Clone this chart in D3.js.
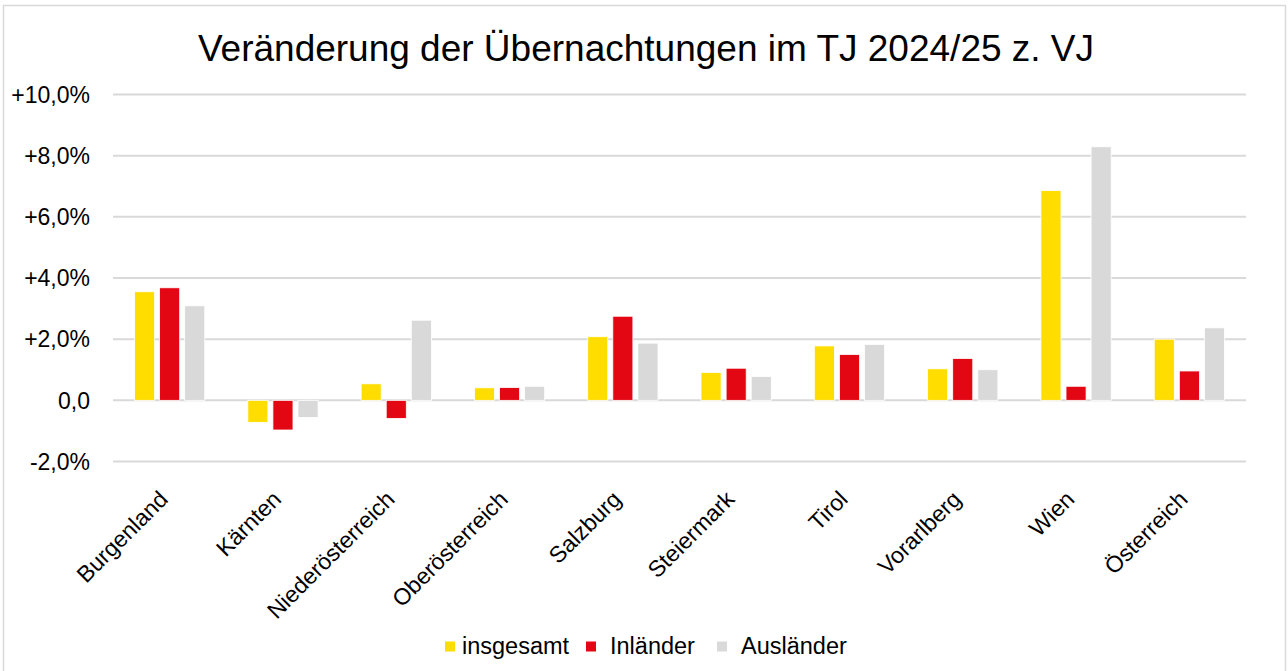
<!DOCTYPE html>
<html>
  <head>
    <meta charset="utf-8">
    <title>Übernachtungen TJ 2024/25</title>
    <script src="https://d3js.org/d3.v7.min.js"></script>
    <style>
        body { margin: 0; background: #fff; }
        svg text { font-family: "Liberation Sans", Arial, sans-serif; fill: #000; }
        .tick-label { font-size: 23px; }
        .cat-label { font-size: 23px; }
        .legend text { font-size: 23.5px; }
        .title { font-size: 37px; }
    </style>
  </head>
  <body>
    <svg width="1288" height="671"></svg>
    <script>
        // Bundesländer
        const regions = ["Burgenland", "Kärnten", "Niederösterreich", "Oberösterreich", "Salzburg",
                         "Steiermark", "Tirol", "Vorarlberg", "Wien", "Österreich"];
        const seriesNames = ["insgesamt", "Inländer", "Ausländer"];
        const seriesColors = ["#FFDD00", "#E30613", "#D9D9D9"];

        // Veränderung in %
        const insgesamt = [3.55, -0.72, 0.54, 0.41, 2.08, 0.91, 1.78, 1.03, 6.86, 2.00];
        const inlaender = [3.68, -0.97, -0.59, 0.42, 2.75, 1.05, 1.50, 1.37, 0.46, 0.96];
        const auslaender = [3.09, -0.56, 2.62, 0.46, 1.87, 0.78, 1.83, 1.00, 8.29, 2.37];

        const yTicks = [-2, 0, 2, 4, 6, 8, 10];

        const values = [insgesamt, inlaender, auslaender];

        const svg = d3.select("svg");

        // outer frame
        svg.append("rect")
            .attr("x", 3.5).attr("y", 5.5)
            .attr("width", 1282).attr("height", 700)
            .attr("fill", "#fff")
            .attr("stroke", "#d9d9d9")
            .attr("stroke-width", 1.5);

        const plot = {left: 113, right: 1246, top: 94.5, bottom: 461.5};

        const x0 = d3.scaleBand()
            .domain(regions)
            .range([plot.left, plot.right])
            .paddingInner(0.38)
            .paddingOuter(0.19);

        const x1 = d3.scaleBand()
            .domain(seriesNames)
            .range([0, x0.bandwidth()])
            .paddingInner(0.2);

        const y = d3.scaleLinear()
            .domain([-2, 10])
            .range([plot.bottom, plot.top]);

        // gridlines
        svg.append("g")
            .selectAll("line")
            .data(yTicks)
            .enter().append("line")
            .attr("x1", plot.left)
            .attr("x2", plot.right)
            .attr("y1", d => y(d))
            .attr("y2", d => y(d))
            .attr("stroke", "#d9d9d9")
            .attr("stroke-width", 2);

        // y tick labels
        const fmt = d => d === 0 ? "0,0" : (d > 0 ? "+" : "-") + Math.abs(d).toFixed(1).replace(".", ",") + "%";
        svg.append("g")
            .selectAll("text")
            .data(yTicks)
            .enter().append("text")
            .attr("class", "tick-label")
            .attr("x", 90)
            .attr("y", d => y(d))
            .attr("dy", "0.36em")
            .attr("text-anchor", "end")
            .text(fmt);

        // bars
        seriesNames.forEach((s, si) => {
            svg.append("g")
                .selectAll("rect")
                .data(regions)
                .enter().append("rect")
                .attr("x", d => x0(d) + x1(s))
                .attr("width", x1.bandwidth())
                .attr("y", (d, i) => y(Math.max(0, values[si][i])))
                .attr("height", (d, i) => Math.abs(y(values[si][i]) - y(0)))
                .attr("fill", seriesColors[si])
                .attr("stroke", "#fff")
                .attr("stroke-width", 0.8);
        });

        // category labels
        svg.append("g")
            .selectAll("text")
            .data(regions)
            .enter().append("text")
            .attr("class", "cat-label")
            .attr("text-anchor", "end")
            .attr("dy", "0.35em")
            .attr("transform", d => `translate(${x0(d) + x0.bandwidth() / 2 - 6}, 495) rotate(-45)`)
            .text(d => d);

        // title
        svg.append("text")
            .attr("class", "title")
            .attr("x", 646)
            .attr("y", 61)
            .attr("text-anchor", "middle")
            .text("Veränderung der Übernachtungen im TJ 2024/25 z. VJ");

        // legend
        const legendX = [445, 586, 717];
        const legend = svg.append("g").attr("class", "legend");
        seriesNames.forEach((s, i) => {
            legend.append("rect")
                .attr("x", legendX[i])
                .attr("y", 641.5)
                .attr("width", 10)
                .attr("height", 10)
                .attr("fill", seriesColors[i]);
            legend.append("text")
                .attr("x", legendX[i] + (i === 0 ? 17 : 24))
                .attr("y", 654)
                .text(s);
        });
    </script>
  </body>
</html>
